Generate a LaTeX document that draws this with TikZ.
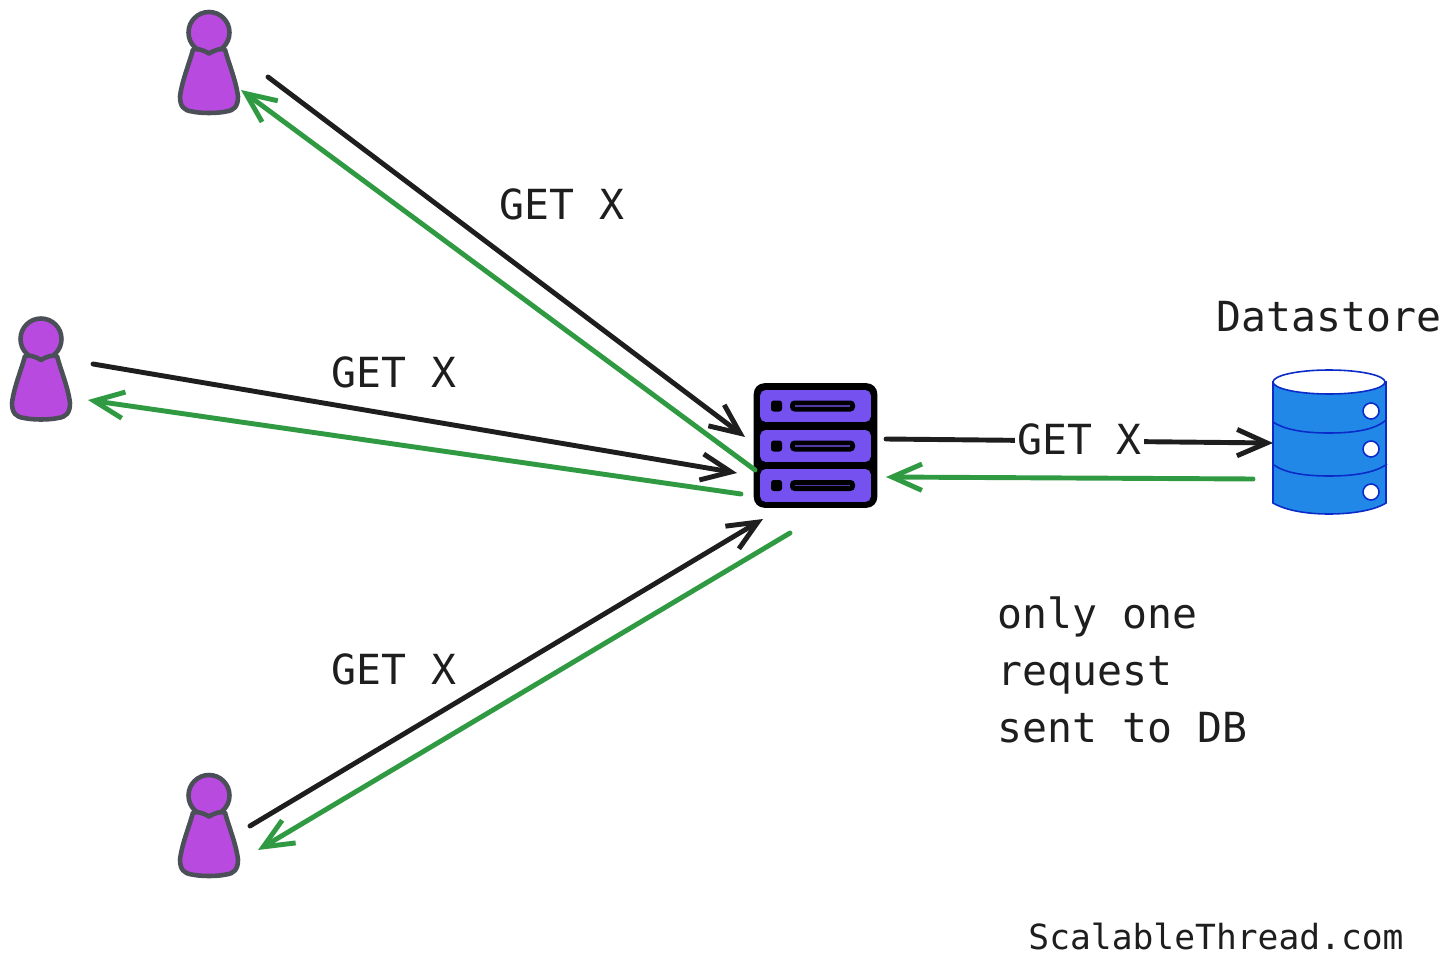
\documentclass[tikz,border=0pt]{standalone}
\usepackage{fontspec}
\setmonofont{DejaVu Sans Mono}
\usetikzlibrary{arrows.meta}
\definecolor{userfill}{HTML}{B84AE0}
\definecolor{userline}{HTML}{4B5058}
\definecolor{srvfill}{HTML}{7551F0}
\definecolor{dbfill}{HTML}{2188E8}
\definecolor{dbline}{HTML}{0A2BC8}
\definecolor{ink}{HTML}{1E1E1E}
\definecolor{reply}{HTML}{2F9A41}
\tikzset{
  lbl/.style={font=\ttfamily\fontsize{23.6}{32.6}\selectfont,text=ink,inner sep=0pt},
  req/.style={draw=ink,line width=2.8pt,line cap=round,-{Straight Barb[length=17pt,width=15pt,line width=2.8pt]}},
  res/.style={draw=reply,line width=2.8pt,line cap=round,-{Straight Barb[length=17pt,width=15pt,line width=2.8pt]}},
  userfig/.pic={
    \draw[fill=userfill,draw=userline,line width=2.6pt] (0,0) circle (20.5);
    \draw[fill=userfill,draw=userline,line width=2.6pt,line join=round]
      (-16,17) .. controls (-11,16) and (-7,17) .. (0,21) .. controls (7,17) and (11,16) .. (16,17)
      .. controls (20,32) and (27,48) .. (29,64) .. controls (29,74) and (25,78) .. (17,79)
      .. controls (8,81) and (-8,81) .. (-17,79) .. controls (-25,78) and (-29,74) .. (-29,64)
      .. controls (-27,48) and (-20,32) .. (-16,17) -- cycle;
  }
}
\begin{document}
\begin{tikzpicture}[x=0.02cm,y=-0.02cm]
\useasboundingbox (0,0) rectangle (1456,969);
% users
\pic at (209,32.5) {userfig};
\pic at (41,339) {userfig};
\pic at (209,795.5) {userfig};
% server
\node (server) at (815.5,445.5) [fill=black,rounded corners=6pt,minimum width=124*0.567pt,minimum height=125*0.567pt,inner sep=0pt] {};
\foreach \y/\h in {406/32,446/32,485.5/33} {
  \node at (815.5,\y) [fill=srvfill,rounded corners=3pt,minimum width=111*0.567pt,minimum height=\h*0.567pt,inner sep=0pt] {};
  \fill[black,rounded corners=1.5pt] (771,\y-5.5) rectangle (782,\y+5.5);
  \fill[black,rounded corners=2.5pt] (790,\y-5.5) rectangle (855,\y+5.5);
  \draw[srvfill!70!black,line width=0.6pt] (795,\y) -- (850,\y);
}
% datastore
\begin{scope}[draw=dbline,line width=0.9pt]
\filldraw[fill=dbfill] (1273,382) -- (1273,503) .. controls (1285,510) and (1305,514) .. (1329,514)
  .. controls (1353,514) and (1375,510) .. (1386,503) -- (1386,382) -- cycle;
\filldraw[fill=white] (1329,382) ellipse (56 and 12);
\draw (1273,422) .. controls (1285,430) and (1305,433) .. (1329,433) .. controls (1353,433) and (1375,430) .. (1386,420);
\draw (1274,465) .. controls (1285,473) and (1305,476) .. (1329,476) .. controls (1353,476) and (1375,473) .. (1387,464);
\foreach \y in {411,449,492} \filldraw[fill=white] (1371,\y) circle (8);
\end{scope}
% arrow ends
\coordinate (a1) at (268,77);
\coordinate (a2) at (745,437);
\coordinate (b1) at (755,470);
\coordinate (b2) at (241,90);
\coordinate (c1) at (93,364);
\coordinate (c2) at (737,473);
\coordinate (d1) at (741,494);
\coordinate (d2) at (88,400);
\coordinate (e1) at (250,826);
\coordinate (e2) at (763,519);
\coordinate (f1) at (790,533);
\coordinate (f2) at (258,850);
\coordinate (g1) at (886,439);
\coordinate (g2) at (1273,443);
\coordinate (h1) at (1253,479);
\coordinate (h2) at (886,477);
\path (a1) edge[req] (a2) (c1) edge[req] (c2) (e1) edge[req] (e2);
\path (b1) edge[res] (b2) (d1) edge[res] (d2) (f1) edge[res] (f2) (h1) edge[res] (h2);
\draw[req] (g1) -- node[pos=0.5,lbl,fill=white,inner xsep=1pt,yshift=1.1pt] (gx) {GET X} (g2);
% labels
\node[lbl] (lA) at (562,204) {GET X};
\node[lbl] (lB) at (394,372) {GET X};
\node[lbl] (lC) at (394,669) {GET X};
\node[lbl] (store) at (1329,317) {Datastore};
\node[lbl,align=left,anchor=north west] (note) at (997,596) {only one\\request\\sent to DB};
\node[lbl,font=\ttfamily\fontsize{19.7}{24}\selectfont] (site) at (1216,936) {ScalableThread.com};
\end{tikzpicture}
\end{document}
